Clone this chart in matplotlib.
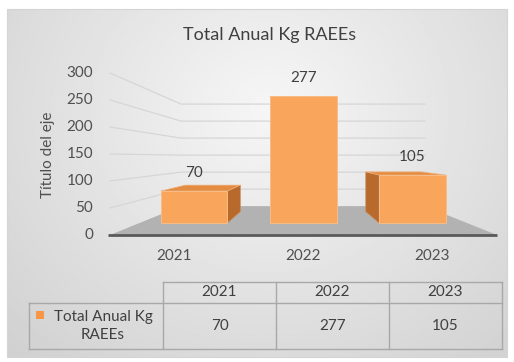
import numpy as np
import matplotlib.pyplot as plt
from matplotlib.patches import Polygon, Rectangle

# data
years = ["2021", "2022", "2023"]
totals = [70, 277, 105]
y_ticks = [0, 50, 100, 150, 200, 250, 300]
chart_title = "Total Anual Kg RAEEs"
axis_title = "Título del eje"
series_name = "Total Anual Kg\nRAEEs"

plt.rcParams["font.family"] = ["Lato", "DejaVu Sans"]

W, H = 514, 362
fig = plt.figure(figsize=(W / 100, H / 100), dpi=100)
ax = fig.add_axes([0, 0, 1, 1])
ax.set_xlim(0, W)
ax.set_ylim(H, 0)
ax.axis("off")

# chart area: soft radial gray gradient
x0, y0, x1, y1 = 7, 9, 507, 357
gx, gy = np.meshgrid(np.linspace(x0, x1, 300), np.linspace(y0, y1, 200))
r = np.sqrt(((gx - 270) / 330) ** 2 + ((gy - 110) / 300) ** 2)
shade = np.clip(0.965 - 0.13 * r, 0.82, 0.97)
ax.imshow(shade, cmap="gray", vmin=0, vmax=1, extent=(x0, x1, y1, y0),
          aspect="auto", zorder=0, interpolation="bilinear")
ax.add_patch(Rectangle((x0, y0), x1 - x0, y1 - y0, fill=False,
                       edgecolor="#d4d4d4", lw=0.8, zorder=0.5))

# simple perspective: front plane + vanishing point
LEFT, RIGHT, BASE, PX_PER_UNIT = 110, 497, 235, 0.54
VP = (302, 157)
WALL = 0.37
BAR_FRONT, BAR_BACK = 0.154, 0.30
BAR_HALF = 0.305

TXT = "#404040"
AX_TXT = "#505050"


def project(c, v, f):
    x = LEFT + c * (RIGHT - LEFT) / len(years)
    y = BASE - v * PX_PER_UNIT
    return (x + f * (VP[0] - x), y + f * (VP[1] - y))


# gridlines on side wall and back wall
for v in y_ticks[1:]:
    a = project(0, v, 0)
    b = project(0, v, WALL)
    c = project(len(years), v, WALL)
    ax.plot([a[0], b[0], c[0]], [a[1], b[1], c[1]], color="#d6d6d6",
            lw=0.9, zorder=1)

# floor
floor = [project(0, 0, 0), project(len(years), 0, 0),
         project(len(years), 0, WALL), project(0, 0, WALL)]
ax.add_patch(Polygon(floor, closed=True, facecolor="#b2b2b2",
                     edgecolor="none", zorder=2))
fl, fr = project(0, 0, 0), project(len(years), 0, 0)
ax.plot([fl[0] - 2, fr[0]], [fl[1], fr[1]], color="#5a5a5a", lw=2,
        zorder=2.5, solid_capstyle="butt")

# bars
for i, val in enumerate(totals):
    cx = i + 0.5
    l, rgt = cx - BAR_HALF, cx + BAR_HALF
    front = [project(l, 0, BAR_FRONT), project(rgt, 0, BAR_FRONT),
             project(rgt, val, BAR_FRONT), project(l, val, BAR_FRONT)]
    top = [project(l, val, BAR_FRONT), project(rgt, val, BAR_FRONT),
           project(rgt, val, BAR_BACK), project(l, val, BAR_BACK)]
    side_c = rgt if front[0][0] < VP[0] - 20 else l
    side = [project(side_c, 0, BAR_FRONT), project(side_c, 0, BAR_BACK),
            project(side_c, val, BAR_BACK), project(side_c, val, BAR_FRONT)]
    ax.add_patch(Polygon(side, closed=True, facecolor="#b86a2c",
                         edgecolor="#c98a55", lw=0.5, zorder=3))
    ax.add_patch(Polygon(top, closed=True, facecolor="#e48d42",
                         edgecolor="#f0b07a", lw=0.5, zorder=3))
    ax.add_patch(Polygon(front, closed=True, facecolor="#f9a65c",
                         edgecolor="#f6bd88", lw=0.7, zorder=4))
    lx = (front[2][0] + front[3][0]) / 2
    ax.text(lx, front[3][1] - 18, str(val), ha="center", va="center",
            fontsize=11, color=TXT, zorder=5)
    bx = project(cx, 0, 0)[0]
    ax.text(bx, 256, years[i], ha="center", va="center", fontsize=11,
            color=AX_TXT)

# value axis labels
for v in y_ticks:
    ax.text(93, project(0, v, 0)[1], str(v), ha="right", va="center",
            fontsize=11, color=AX_TXT)

ax.text(48, 155, axis_title, rotation=90, ha="center", va="center",
        fontsize=11, color=AX_TXT)
ax.text(270, 35, chart_title, ha="center", va="center", fontsize=13,
        color=TXT)

# data table
T_LEFT, T_LABEL, T_RIGHT = 29, 163, 502
T_TOP, T_MID, T_BOT = 282, 303, 349
grid_c = "#a8a8a8"
col_w = (T_RIGHT - T_LABEL) / len(years)
ax.plot([T_LABEL, T_RIGHT], [T_TOP, T_TOP], color=grid_c, lw=1)
ax.plot([T_LEFT, T_RIGHT], [T_MID, T_MID], color=grid_c, lw=1)
ax.plot([T_LEFT, T_RIGHT], [T_BOT, T_BOT], color=grid_c, lw=1)
ax.plot([T_LEFT, T_LEFT], [T_MID, T_BOT], color=grid_c, lw=1)
for k in range(len(years) + 1):
    xx = T_LABEL + k * col_w
    ax.plot([xx, xx], [T_TOP, T_BOT], color=grid_c, lw=1)
for k, (yr, val) in enumerate(zip(years, totals)):
    xc = T_LABEL + (k + 0.5) * col_w
    ax.text(xc, (T_TOP + T_MID) / 2, yr, ha="center", va="center",
            fontsize=11, color=TXT)
    ax.text(xc, (T_MID + T_BOT) / 2, str(val), ha="center", va="center",
            fontsize=11, color=TXT)
ax.add_patch(Rectangle((36, 311), 8, 8, facecolor="#f79646",
                       edgecolor="none"))
ax.text(103, (T_MID + T_BOT) / 2, series_name, ha="center", va="center",
        fontsize=11, color=TXT, linespacing=1.3)

fig.savefig("out.png", dpi=100)
